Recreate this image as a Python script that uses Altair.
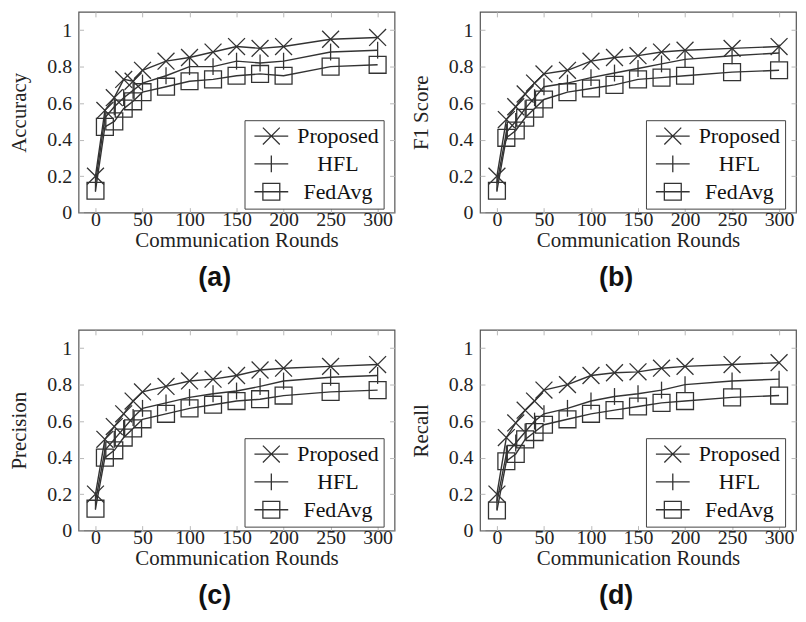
import altair as alt
import pandas as pd

rounds = [0, 10, 20, 30, 40, 50, 75, 100, 125, 150, 175, 200, 250, 300]
methods = ["Proposed", "HFL", "FedAvg"]

accuracy_proposed = [0.20, 0.56, 0.63, 0.73, 0.72, 0.78, 0.83, 0.85, 0.88, 0.91, 0.90, 0.91, 0.95, 0.96]
accuracy_hfl = [0.16, 0.52, 0.58, 0.63, 0.67, 0.71, 0.75, 0.80, 0.80, 0.83, 0.82, 0.83, 0.88, 0.89]
accuracy_fedavg = [0.12, 0.47, 0.50, 0.57, 0.61, 0.66, 0.69, 0.72, 0.73, 0.75, 0.76, 0.75, 0.80, 0.81]

f1_proposed = [0.20, 0.51, 0.58, 0.65, 0.71, 0.76, 0.78, 0.83, 0.85, 0.86, 0.88, 0.89, 0.90, 0.91]
f1_hfl = [0.16, 0.44, 0.50, 0.57, 0.63, 0.69, 0.71, 0.74, 0.765, 0.79, 0.815, 0.84, 0.86, 0.875]
f1_fedavg = [0.12, 0.41, 0.45, 0.52, 0.57, 0.62, 0.66, 0.68, 0.70, 0.73, 0.74, 0.75, 0.77, 0.78]

precision_proposed = [0.20, 0.50, 0.57, 0.64, 0.71, 0.76, 0.79, 0.82, 0.83, 0.85, 0.88, 0.89, 0.90, 0.91]
precision_hfl = [0.16, 0.44, 0.50, 0.56, 0.62, 0.67, 0.70, 0.73, 0.75, 0.765, 0.79, 0.82, 0.84, 0.85]
precision_fedavg = [0.12, 0.40, 0.44, 0.51, 0.56, 0.61, 0.64, 0.67, 0.69, 0.71, 0.72, 0.74, 0.76, 0.77]

recall_proposed = [0.20, 0.51, 0.59, 0.66, 0.71, 0.77, 0.80, 0.85, 0.865, 0.87, 0.89, 0.90, 0.91, 0.92]
recall_hfl = [0.16, 0.42, 0.48, 0.54, 0.60, 0.64, 0.67, 0.71, 0.735, 0.75, 0.77, 0.80, 0.82, 0.83]
recall_fedavg = [0.11, 0.38, 0.42, 0.50, 0.54, 0.58, 0.61, 0.64, 0.66, 0.68, 0.70, 0.71, 0.73, 0.74]

x_ticks = [0, 50, 100, 150, 200, 250, 300]
y_ticks = [0, 0.2, 0.4, 0.6, 0.8, 1]
x_title = "Communication Rounds"

SERIF = "Liberation Serif"
SANS = "Liberation Sans"
INK = "#333333"
TICK = "#b8b8b8"

marker_paths = ["M-1,-1L1,1M-1,1L1,-1", "M0,-1V1", "M-1,-1H1V1H-1Z"]
legend_paths = ["M-2,0H2M-1,-1L1,1M-1,1L1,-1", "M-2,0H2M0,-1V1", "M-2,0H2M-1,-1H1V1H-1Z"]

PW, PH = 318, 202


def make_panel(metric, caption, proposed, hfl, fedavg):
    rows = []
    for name, vals in zip(methods, [proposed, hfl, fedavg]):
        for r, v in zip(rounds, vals):
            rows.append({"round": r, "value": v, "method": name})
    df = pd.DataFrame(rows)
    xs = alt.Scale(domain=[-18, 318], nice=False, zero=False)
    ys = alt.Scale(domain=[0, 1.1], nice=False, zero=False)

    lines = alt.Chart(df).mark_line(color=INK, strokeWidth=1.4).encode(
        x=alt.X("round:Q", scale=xs, axis=alt.Axis(
            orient="bottom", values=x_ticks, title=x_title, offset=-5,
            tickSize=5, tickColor=TICK, domain=False, grid=False,
            labelPadding=-3, titlePadding=0, labelFlush=False)),
        y=alt.Y("value:Q", scale=ys, axis=alt.Axis(
            orient="left", values=y_ticks, title=metric, format="~g", offset=-5,
            tickSize=5, tickColor=TICK, domain=False, grid=False,
            labelPadding=7, titlePadding=17, labelFlush=False)),
        detail="method:N",
    )
    points = alt.Chart(df).mark_point(filled=False, stroke=INK, strokeWidth=1.3,
                                      size=289, opacity=1).encode(
        x=alt.X("round:Q", scale=xs, axis=alt.Axis(
            orient="top", values=x_ticks, title=None, labels=False, offset=-5,
            tickSize=5, tickColor=TICK, domain=False, grid=False)),
        y=alt.Y("value:Q", scale=ys, axis=alt.Axis(
            orient="right", values=y_ticks, title=None, labels=False, offset=-5,
            tickSize=5, tickColor=TICK, domain=False, grid=False)),
        shape=alt.Shape("method:N", scale=alt.Scale(domain=methods, range=marker_paths),
                        legend=None),
    )
    legend_layer = alt.Chart(df).mark_point(filled=False, stroke=INK, strokeWidth=1.3,
                                            size=289, opacity=1).encode(
        x=alt.X("round:Q", scale=xs, axis=None),
        y=alt.Y("value:Q", scale=ys, axis=None),
        shape=alt.Shape("method:N", scale=alt.Scale(domain=methods, range=legend_paths),
                        legend=alt.Legend(
                            title=None, orient="none", legendX=167, legendY=109,
                            padding=5,
                            strokeColor="#444", fillColor="white",
                            labelFont=SERIF, labelFontSize=22, labelColor="#111",
                            labelAlign="center", labelOffset=56,
                            symbolOffset=11,
                            symbolSize=289, symbolStrokeWidth=1.3,
                            symbolStrokeColor=INK, symbolFillColor="transparent",
                            symbolOpacity=1, rowPadding=4)),
    ).transform_filter("datum.round < 0")

    return alt.layer(lines, points, legend_layer).resolve_scale(
        shape="independent").resolve_legend(shape="independent").resolve_axis(
        x="independent", y="independent").properties(
        width=PW, height=PH,
        title=alt.TitleParams(caption, orient="bottom", font=SANS, fontSize=27,
                              fontWeight="bold", offset=15, anchor="middle",
                              dx=-22, color="#111"))


pa = make_panel("Accuracy", "(a)", accuracy_proposed, accuracy_hfl, accuracy_fedavg)
pb = make_panel("F1 Score", "(b)", f1_proposed, f1_hfl, f1_fedavg)
pc = make_panel("Precision", "(c)", precision_proposed, precision_hfl, precision_fedavg)
pd_ = make_panel("Recall", "(d)", recall_proposed, recall_hfl, recall_fedavg)

chart = alt.vconcat(
    alt.hconcat(pa, pb, spacing=13),
    alt.hconcat(pc, pd_, spacing=13),
    spacing=36,
).properties(
    padding={"left": 0, "top": 0, "right": 0, "bottom": 0},
    background="white",
).configure_view(
    stroke="#555", strokeWidth=1.2
).configure_axis(
    labelFont=SERIF, labelFontSize=20, labelColor="#222",
    titleFont=SERIF, titleFontSize=21, titleColor="#222", titleFontWeight="normal",
)

chart.save("out.html", embed_options={"renderer": "svg", "actions": False})
